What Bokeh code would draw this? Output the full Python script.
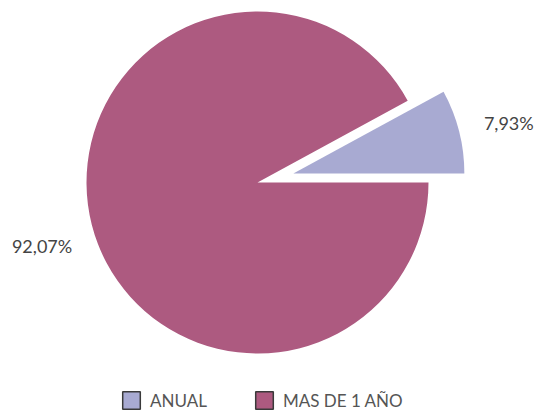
import math
from bokeh.plotting import figure
from bokeh.models import ColumnDataSource, Range1d, Legend, LegendItem
from bokeh.core.properties import value
from bokeh.embed import file_html
from bokeh.resources import INLINE

categories = ["ANUAL", "MAS DE 1 AÑO"]
shares = [7.93, 92.07]
labels = ["7,93%", "92,07%"]
colors = ["#A8AAD2", "#AD5A80"]
explode = [37, 0]

W, H = 535, 411
p = figure(width=W, height=H, output_backend="svg", toolbar_location=None,
           x_range=Range1d(0, W), y_range=Range1d(0, H),
           min_border=0, outline_line_color=None)
p.axis.visible = False
p.grid.visible = False

cx, cy, r = 257, 229, 171
total = sum(shares)
start = 0.0
xs, ys, sa, ea, lx, ly = [], [], [], [], [], []
for s, e in zip(shares, explode):
    a0 = start
    a1 = start + 2 * math.pi * s / total
    mid = (a0 + a1) / 2
    ox = cx + e * math.cos(mid)
    oy = cy + e * math.sin(mid)
    xs.append(ox); ys.append(oy); sa.append(a0); ea.append(a1)
    lx.append(ox + 1.3 * r * math.cos(mid))
    ly.append(oy + 1.3 * r * math.sin(mid))
    start = a1

src = ColumnDataSource(dict(x=xs, y=ys, start=sa, end=ea, color=colors,
                            lx=lx, ly=ly, label=labels, yoff=[4, 9]))
p.wedge(x="x", y="y", radius=r, start_angle="start", end_angle="end",
        fill_color="color", line_color=None, source=src)
p.text(x="lx", y="ly", text="label", source=src, text_align="center",
       text_baseline="middle", text_font=value("Lato"), text_font_size="18px",
       text_color="#444444", y_offset="yoff")

nan = float("nan")
items = []
for cat, col in zip(categories, colors):
    rr = p.quad(left=[nan], right=[nan], top=[nan], bottom=[nan], fill_color=col,
                line_color="#3a3a3a", line_width=1.5)
    items.append(LegendItem(label=cat, renderers=[rr]))

legend = Legend(items=items, orientation="horizontal", location=(120, 0),
                glyph_width=22, glyph_height=22, label_standoff=8, spacing=46,
                padding=0, margin=0, border_line_color=None,
                background_fill_alpha=0, label_text_font="Lato",
                label_text_font_size="17px", label_text_color="#555555")
p.add_layout(legend, "center")

open("out.html", "w").write(file_html(p, INLINE))
